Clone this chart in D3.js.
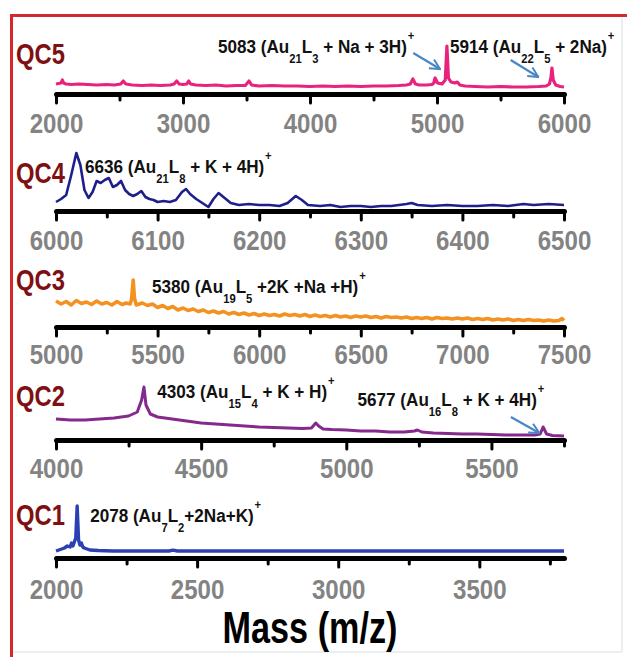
<!DOCTYPE html>
<html>
<head>
<meta charset="utf-8">
<script src="https://d3js.org/d3.v7.min.js"></script>
<style>
  body { margin: 0; background: #fff; }
  svg { display: block; }
</style>
</head>
<body>
<script>
// ---- spectra (m/z, relative intensity) ----
const mzQC5 = [2000,2020,2040,2050,2060,2080,2120,2180,2250,2320,2400,2460,2510,2530,2550,2600,2680,2750,2820,2900,2930,2950,2970,3000,3030,3045,3060,3100,3180,3260,3340,3420,3490,3520,3540,3600,3700,3800,3900,4000,4100,4200,4300,4400,4500,4600,4700,4760,4790,4810,4830,4860,4920,4960,4975,4985,5005,5040,5065,5078,5090,5110,5140,5160,5180,5220,5300,5400,5500,5600,5700,5800,5860,5885,5897,5905,5915,5935,5970,6000];
const intQC5 = [10,10.5,11,14,11,10,9.5,10,9.5,9,9.5,9,10,13,10,9,8.5,9,8.5,9,10,13,10,9.5,10,13,10,9,8.5,9,8,8.5,8.5,13,9,8,8.5,8,8,7.5,8,7.5,8,7.5,8,8,8.5,9,10,15,10,9,9,9.5,11,16,11,10,14,48,16,12,11,12,9,8,7.5,7,7.5,7,7,7.5,8,10,16,26,14,9,7.5,7];

const mzQC4 = [6000,6005,6010,6015,6020,6024,6028,6032,6036,6040,6044,6048,6052,6056,6060,6064,6068,6072,6076,6080,6084,6088,6092,6096,6100,6106,6112,6118,6124,6128,6132,6138,6144,6150,6155,6160,6166,6172,6180,6190,6200,6210,6220,6228,6236,6242,6248,6260,6270,6280,6290,6300,6310,6320,6330,6345,6350,6356,6370,6385,6400,6415,6430,6445,6460,6470,6485,6500];
const intQC4 = [9,12,16,36,58,46,21,13,19,30,28,31,33,24,26,30,21,17,15,17,20,14,12,11,9,10,9,11,19,22,17,12,8,4,12,18,13,8,6,7,6,6,5,8,15,11,6,5,6,4,5,5,4,5,5,7,8,6,5,6,5,5,6,5,7,6,7,6];

const mzQC3 = [5000,5025,5050,5075,5100,5125,5150,5175,5200,5225,5250,5275,5300,5325,5345,5365,5372,5380,5386,5395,5425,5450,5475,5500,5525,5550,5575,5600,5625,5650,5675,5700,5725,5750,5775,5800,5825,5850,5875,5900,5925,5950,5975,6000,6025,6050,6075,6100,6125,6150,6175,6200,6225,6250,6275,6300,6325,6350,6375,6400,6425,6450,6475,6500,6525,6550,6575,6600,6625,6650,6675,6700,6725,6750,6775,6800,6825,6850,6875,6900,6925,6950,6975,7000,7025,7050,7075,7100,7125,7150,7175,7200,7225,7250,7275,7300,7325,7350,7375,7400,7425,7450,7475,7490,7500];
const intQC3 = [26,23,25.5,22,26.5,23.5,25,22.5,26,23,24.5,22,25.5,22.5,24,23,28,47,29,22,24,21.5,23,19.5,21.5,18.5,20.5,17,19,16.5,18,15.5,17,14.5,16,14,15.5,13,14.5,12.5,14,12,13.5,11.5,13,11.5,12.5,11,13,11.5,12.5,11,12.5,10.5,12,10.5,11.5,10,11.5,10,11,9.5,11,10,11,9.5,10.5,9,10.5,9.5,10,9,10,8.5,9.5,8.5,9.5,8,9.5,8.5,9,8,9,8,9,7.5,8.5,7.5,8.5,7,8,7,8,6.5,7.5,6.5,7.5,6.5,7,6,7,6,6.5,8.5,6.5];

const mzQC2 = [4000,4050,4100,4150,4200,4250,4280,4295,4303,4310,4325,4350,4400,4450,4500,4550,4600,4650,4700,4750,4800,4850,4880,4895,4905,4920,4950,5000,5050,5100,5150,5200,5235,5245,5260,5300,5350,5400,5450,5500,5550,5600,5650,5668,5678,5690,5710,5750];
const intQC2 = [21,20,20,21,22,24,28,40,53,35,26,23,21,19,17,16,15,14,13,12.5,12,11.5,12,17,14,11,10.5,10,9,9,8,8,9,10,8,7,6.5,6,6,5.5,5,5,5,6,13,6,4.5,4];

const mzQC1 = [2000,2010,2020,2030,2040,2050,2055,2060,2065,2070,2075,2080,2085,2090,2095,2100,2110,2120,2150,2200,2300,2400,2415,2430,2500,2700,2900,3100,3300,3500,3700,3800];
const intQC1 = [7,8,9,10,12,11,15,12,16,20,52,18,13,15,11,10,9,8,7.5,7,7,7,7.8,7,7,7,7,7,7,7,7,7];

// ---- panels ----
const panelNames = ["QC5", "QC4", "QC3", "QC2", "QC1"];
const panelColors = ["#e8237e", "#1f1f8c", "#f39221", "#852a8c", "#2b40b3"];
const panelDomains = [[2000, 6000], [6000, 6500], [5000, 7500], [4000, 5750], [2000, 3800]];
const majorTicks = [
  [2000, 3000, 4000, 5000, 6000],
  [6000, 6100, 6200, 6300, 6400, 6500],
  [5000, 5500, 6000, 6500, 7000, 7500],
  [4000, 4500, 5000, 5500],
  [2000, 2500, 3000, 3500]
];
const minorTicks = [
  [2500, 3500, 4500, 5500],
  [6050, 6150, 6250, 6350, 6450],
  [5250, 5750, 6250, 6750, 7250],
  [4250, 4750, 5250, 5750],
  [2250, 2750, 3250, 3750]
];
const spectra = [[mzQC5, intQC5], [mzQC4, intQC4], [mzQC3, intQC3], [mzQC2, intQC2], [mzQC1, intQC1]];

// annotations: panel index, anchor (m/z, intensity), text parts
const annotations = [
  { p: 0, mz: 3276, v: 41, parts: [["5083 (Au"], ["21", "sub"], ["L"], ["3", "sub"], [" + Na + 3H)"], ["+", "sup"]] },
  { p: 0, mz: 5102, v: 41, parts: [["5914 (Au"], ["22", "sub"], ["L"], ["5", "sub"], [" + 2Na)"], ["+", "sup"]] },
  { p: 1, mz: 6028.5, v: 38, parts: [["6636 (Au"], ["21", "sub"], ["L"], ["8", "sub"], [" + K + 4H)"], ["+", "sup"]] },
  { p: 2, mz: 5472, v: 34, parts: [["5380 (Au"], ["19", "sub"], ["L"], ["5", "sub"], [" +2K +Na +H)"], ["+", "sup"]] },
  { p: 3, mz: 4349, v: 42, parts: [["4303 (Au"], ["15", "sub"], ["L"], ["4", "sub"], [" + K + H)"], ["+", "sup"]] },
  { p: 3, mz: 5039, v: 34, parts: [["5677 (Au"], ["16", "sub"], ["L"], ["8", "sub"], [" + K + 4H)"], ["+", "sup"]] },
  { p: 4, mz: 2121, v: 36, parts: [["2078 (Au"], ["7", "sub"], ["L"], ["2", "sub"], ["+2Na+K)"], ["+", "sup"]] }
];
// arrows: panel index, from (m/z, intensity) to (m/z, intensity)
const arrows = [
  { p: 0, from: [4813, 41], to: [5024, 25] },
  { p: 0, from: [5580, 34], to: [5798, 17] },
  { p: 3, from: [5567, 23], to: [5665, 7] }
];

// ---- layout ----
const W = 627, H = 657;
const plotLeft = 56, plotRight = 564;
const axisYs = [94, 211, 327, 440, 558];
const labelBaselines = [64, 183, 290, 406, 525];
const labelPads = [10, 10, 8, 9, 12];
const lineWidths = [3.2, 2.6, 3.6, 3, 3.4];
const FONT = "'Liberation Sans', Arial, sans-serif";

const svg = d3.select("body").append("svg")
  .attr("width", W).attr("height", H);

// frame
svg.append("line").attr("x1", 622).attr("x2", 622).attr("y1", 18).attr("y2", 652)
  .attr("stroke", "#e6eaee").attr("stroke-width", 1.5);
svg.append("line").attr("x1", 12).attr("x2", 622).attr("y1", 652).attr("y2", 652)
  .attr("stroke", "#e6eaee").attr("stroke-width", 1.5);
svg.append("line").attr("x1", 10).attr("x2", W).attr("y1", 15.5).attr("y2", 15.5)
  .attr("stroke", "#d6282c").attr("stroke-width", 3);
svg.append("line").attr("x1", 11.5).attr("x2", 11.5).attr("y1", 14).attr("y2", H)
  .attr("stroke", "#d6282c").attr("stroke-width", 3);

svg.append("defs").append("marker")
  .attr("id", "arr").attr("markerUnits", "userSpaceOnUse")
  .attr("viewBox", "0 0 12 12").attr("refX", 11).attr("refY", 6)
  .attr("markerWidth", 12).attr("markerHeight", 12).attr("orient", "auto")
  .append("path").attr("d", "M1,1 L11,6 L1,11")
  .attr("fill", "none").attr("stroke", "#4a86c6").attr("stroke-width", 2);

const scalesX = [], scalesY = [];

panelNames.forEach((name, i) => {
  const x = d3.scaleLinear().domain(panelDomains[i]).range([plotLeft, plotRight]);
  const y = d3.scaleLinear().domain([0, 100]).range([axisYs[i], axisYs[i] - 100]);
  scalesX.push(x); scalesY.push(y);

  // spectrum
  const [mz, inten] = spectra[i];
  const pts = mz.map((m, k) => [m, inten[k]]);
  svg.append("path")
    .attr("d", d3.line().x(d => x(d[0])).y(d => y(d[1]))(pts))
    .attr("fill", "none")
    .attr("stroke", panelColors[i])
    .attr("stroke-width", lineWidths[i])
    .attr("stroke-linejoin", "round");

  // axis
  const g = svg.append("g").attr("transform", `translate(0,${axisYs[i]})`);
  g.call(d3.axisBottom(x).tickValues(majorTicks[i]).tickSize(9).tickSizeOuter(0)
    .tickPadding(labelPads[i]).tickFormat(d3.format("d")));
  const gm = g.append("g").call(d3.axisBottom(x).tickValues(minorTicks[i]).tickSize(6).tickSizeOuter(0).tickFormat(""));
  gm.select(".domain").remove();
  g.select(".domain").attr("stroke", "#000").attr("stroke-width", 5).attr("stroke-linecap", "round");
  g.selectAll(".tick line").attr("stroke", "#000").attr("stroke-width", 3).attr("stroke-linecap", "round");
  g.selectAll(".tick text")
    .attr("font-family", FONT).attr("font-weight", "bold").attr("font-size", 28)
    .attr("fill", "#838383").attr("transform", "scale(0.86,1)");

  // panel label
  svg.append("text")
    .attr("transform", `translate(16,${labelBaselines[i]}) scale(0.82,1)`)
    .attr("font-family", FONT).attr("font-weight", "bold").attr("font-size", 29)
    .attr("fill", "#7e1013").text(name);
});

// annotations
annotations.forEach(a => {
  const t = svg.append("text")
    .attr("transform", `translate(${scalesX[a.p](a.mz)},${scalesY[a.p](a.v)}) scale(0.9,1)`)
    .attr("font-family", FONT).attr("font-weight", "bold").attr("font-size", 19)
    .attr("fill", "#111");
  let shift = 0;
  a.parts.forEach(([s, kind]) => {
    const target = kind === "sub" ? 10 : kind === "sup" ? -13 : 0;
    t.append("tspan")
      .attr("dy", target - shift)
      .attr("dx", kind === "sup" ? 1 : 0)
      .attr("font-size", kind ? 12.5 : 19)
      .text(s);
    shift = target;
  });
});

// arrows
arrows.forEach(a => {
  const x = scalesX[a.p], y = scalesY[a.p];
  svg.append("line")
    .attr("x1", x(a.from[0])).attr("y1", y(a.from[1]))
    .attr("x2", x(a.to[0])).attr("y2", y(a.to[1]))
    .attr("stroke", "#4a86c6").attr("stroke-width", 2.2)
    .attr("marker-end", "url(#arr)");
});

// x title
svg.append("text")
  .attr("transform", "translate(310,643) scale(0.76,1)")
  .attr("text-anchor", "middle")
  .attr("font-family", FONT).attr("font-weight", "bold").attr("font-size", 45)
  .attr("fill", "#000").text("Mass (m/z)");
</script>
</body>
</html>
